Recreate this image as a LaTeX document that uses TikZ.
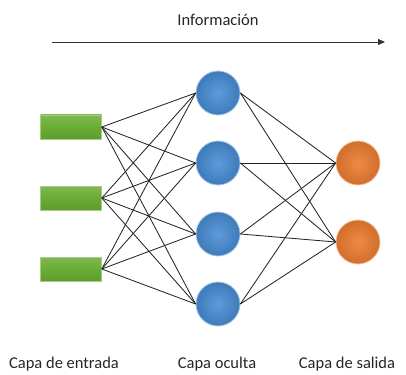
\documentclass[tikz,border=0pt]{standalone}
\usepackage{fontspec}
\setmainfont{Carlito}
\usetikzlibrary{arrows.meta}
\definecolor{inblue}{RGB}{74,144,217}
\definecolor{outorange}{RGB}{237,125,49}
\definecolor{ingreen}{RGB}{106,172,52}
\begin{document}
\begin{tikzpicture}[x=1pt,y=-1pt,
  inbox/.style={rectangle,minimum width=61pt,minimum height=24pt,inner sep=0pt,
    draw=ingreen!60!white,line width=0.6pt,top color=ingreen!85!white,bottom color=ingreen!90!black,middle color=ingreen},
  hid/.style={circle,minimum size=44pt,inner sep=0pt,draw=inblue!50!white,line width=0.8pt,
    inner color=inblue!90!white,outer color=inblue!85!black},
  outn/.style={circle,minimum size=44pt,inner sep=0pt,draw=outorange!50!white,line width=0.8pt,
    inner color=outorange!90!white,outer color=outorange!88!black},
  conn/.style={draw=black!85,line width=0.85pt},
  lbl/.style={font=\fontsize{16.5}{19}\selectfont,text=black!85,inner sep=0pt}]
\useasboundingbox (0,0) rectangle (406,374);
\node[lbl] (title) at (218,20) {Información};
\coordinate (a0) at (52,42);
\coordinate (a1) at (385,42);
\draw[black!80,line width=0.9pt,-{Triangle[length=7pt,width=6pt]}] (a0) -- (a1);
\node[inbox] (i1) at (71,127) {};
\node[inbox] (i2) at (71,198) {};
\node[inbox] (i3) at (71,269) {};
\node[hid] (h1) at (218,93) {};
\node[hid] (h2) at (218,163) {};
\node[hid] (h3) at (218,234) {};
\node[hid] (h4) at (218,304) {};
\node[outn] (o1) at (358,163) {};
\node[outn] (o2) at (358,242) {};
\foreach \i in {1,2,3}{\foreach \h in {1,2,3,4}{\path[conn] (i\i.east) -- (h\h.west);}}
\foreach \h in {1,2,3,4}{\foreach \o in {1,2}{\path[conn] (h\h.east) -- (o\o.west);}}
\node[lbl] (l1) at (64,364) {Capa de entrada};
\node[lbl] (l2) at (217,364) {Capa oculta};
\node[lbl] (l3) at (347,364) {Capa de salida};
\end{tikzpicture}
\end{document}
